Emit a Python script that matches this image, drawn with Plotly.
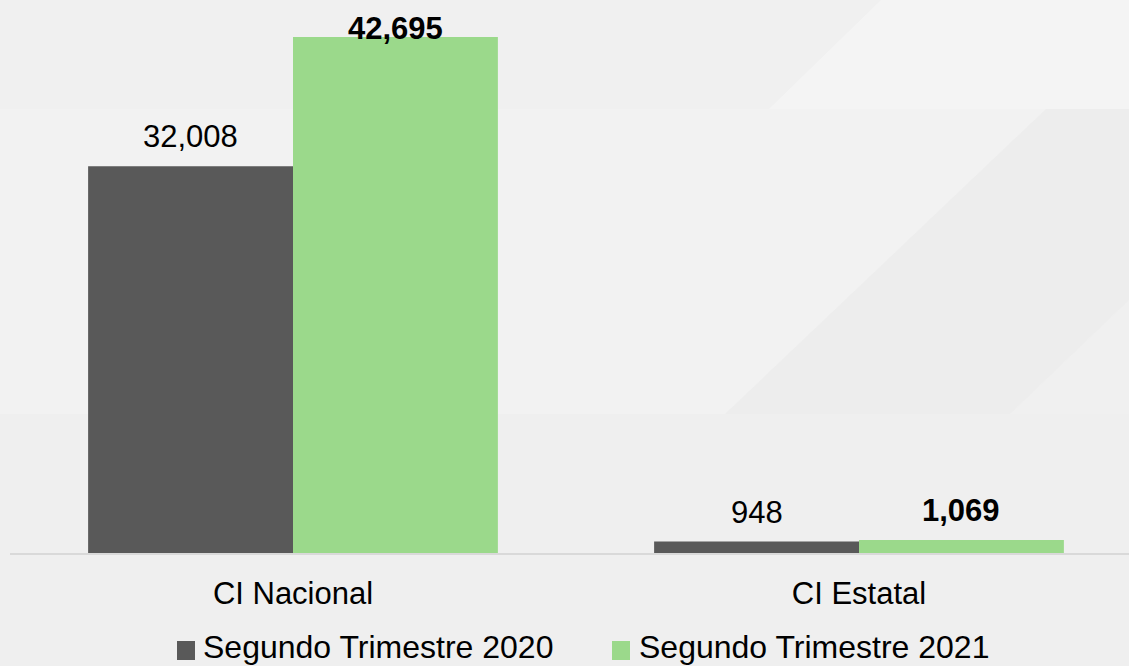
import plotly.graph_objects as go

# Categories and series
categories = ["CI Nacional", "CI Estatal"]
series_names = ["Segundo Trimestre 2020", "Segundo Trimestre 2021"]
values_2020 = [32008, 948]
values_2021 = [42695, 1069]
series_values = [values_2020, values_2021]
series_colors = ["#595959", "#9bd98b"]
label_bold = [False, True]

# Figure geometry (pixels)
FIG_W, FIG_H = 1129, 666
M_L, M_R, M_T, M_B = 10, 0, 0, 113
PLOT_W = FIG_W - M_L - M_R
PLOT_H = FIG_H - M_T - M_B
Y_MAX = 45755
X_RANGE = [-0.5, -0.5 + PLOT_W / 566.0]
BARGAP = 0.276
BAR_W = (1 - BARGAP) / 2
FONT = "Liberation Sans, Arial, sans-serif"
LABEL_SIZE = 31


def px_x(p):
    return (p - M_L) / PLOT_W


def px_y(p):
    return (M_T + PLOT_H - p) / PLOT_H


fig = go.Figure()
x_pos = list(range(len(categories)))
for name, vals, color in zip(series_names, series_values, series_colors):
    fig.add_trace(go.Bar(
        x=x_pos, y=vals, name=name, marker_color=color,
        marker_line_width=0, showlegend=False, hoverinfo="skip",
    ))

# Value labels above each bar, kept inside the top of the plot area
annotations = []
px_per_unit = PLOT_H / Y_MAX
for j, (vals, bold) in enumerate(zip(series_values, label_bold)):
    for i, v in enumerate(vals):
        bar_top = M_T + PLOT_H - v * px_per_unit
        baseline = max(bar_top - 18, 40)
        shift = bar_top - baseline
        txt = f"{v:,}"
        annotations.append(dict(
            x=i + (j - 0.5) * BAR_W, y=v, xref="x", yref="y",
            text=f"<b>{txt}</b>" if bold else txt,
            showarrow=False, xanchor="center", yanchor="bottom",
            yshift=shift - 8,
            font=dict(family=FONT, size=LABEL_SIZE, color="#000000"),
        ))

# Legend drawn as squares and text beneath the axis
legend_items = [(177, 201), (612, 637)]
shapes = []
for (sq_x, tx_x), name, color in zip(legend_items, series_names, series_colors):
    shapes.append(dict(
        type="rect", xref="paper", yref="paper",
        x0=px_x(sq_x), x1=px_x(sq_x + 18), y0=px_y(660), y1=px_y(641),
        fillcolor=color, line_width=0, layer="above",
    ))
    annotations.append(dict(
        x=px_x(tx_x), y=px_y(647), xref="paper", yref="paper",
        text=name, showarrow=False, xanchor="left", yanchor="middle",
        font=dict(family=FONT, size=32, color="#000000"),
    ))

# Soft geometric background panels
bg_panels = [
    ([(881, 0), (1129, 0), (1129, 109), (769, 109)], "rgba(255,255,255,0.30)"),
    ([(0, 109), (1046, 109), (725, 414), (0, 414)], "rgba(255,255,255,0.18)"),
    ([(1046, 109), (1129, 109), (1129, 300), (1010, 414), (725, 414)], "rgba(228,228,228,0.18)"),
    ([(0, 414), (1129, 414), (1129, 666), (0, 666)], "rgba(232,232,232,0.15)"),
]
for pts, fill in bg_panels:
    path = "M " + " L ".join(f"{px_x(x):.5f},{px_y(y):.5f}" for x, y in pts) + " Z"
    shapes.append(dict(type="path", xref="paper", yref="paper", path=path,
                       fillcolor=fill, line_width=0, layer="below"))

fig.update_layout(
    width=FIG_W, height=FIG_H,
    margin=dict(l=M_L, r=M_R, t=M_T, b=M_B, pad=0),
    paper_bgcolor="#f0f0f0", plot_bgcolor="rgba(0,0,0,0)",
    barmode="group", bargap=BARGAP, bargroupgap=0,
    font=dict(family=FONT, color="#000000"),
    xaxis=dict(
        range=X_RANGE, tickvals=x_pos, ticktext=categories,
        showgrid=False, zeroline=False, showline=True,
        linecolor="#d9d9d9", linewidth=2,
        ticks="outside", ticklen=12, tickcolor="rgba(0,0,0,0)",
        tickfont=dict(family=FONT, size=LABEL_SIZE, color="#000000"),
    ),
    yaxis=dict(range=[0, Y_MAX], visible=False, showgrid=False, zeroline=False),
    annotations=annotations, shapes=shapes, showlegend=False,
)

fig.write_html("out.html")
